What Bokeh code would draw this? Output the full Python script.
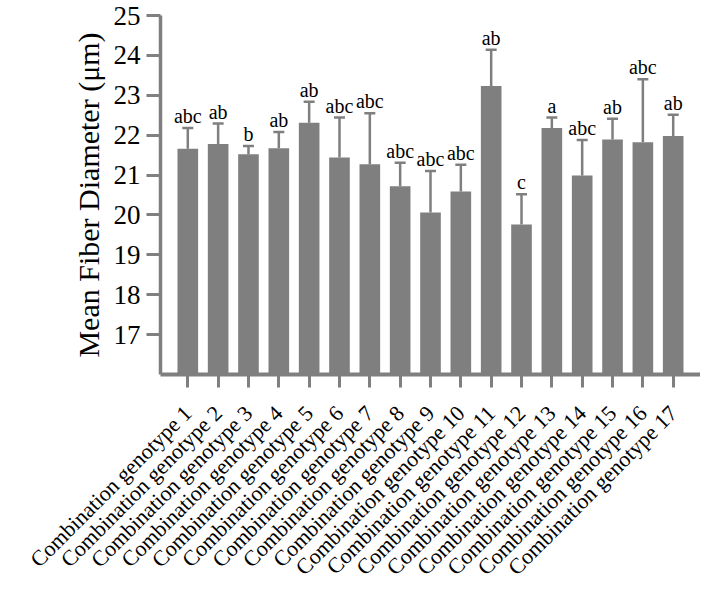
import math
from bokeh.plotting import figure
from bokeh.models import FactorRange, Range1d, FixedTicker, Whisker, ColumnDataSource
from bokeh.core.properties import value
from bokeh.embed import file_html
from bokeh.resources import INLINE

categories = [f"Combination genotype {i}" for i in range(1, 18)]
means = [21.66, 21.78, 21.52, 21.67, 22.31, 21.44, 21.27, 20.72, 20.06,
         20.59, 23.23, 19.76, 22.18, 20.99, 21.89, 21.82, 21.98]
errors = [0.52, 0.51, 0.21, 0.41, 0.53, 1.00, 1.28, 0.59, 1.04,
          0.67, 0.91, 0.76, 0.26, 0.89, 0.52, 1.58, 0.53]
letters = ["abc", "ab", "b", "ab", "ab", "abc", "abc", "abc", "abc",
           "abc", "ab", "c", "a", "abc", "ab", "abc", "ab"]
y_ticks = [17, 18, 19, 20, 21, 22, 23, 24, 25]
y_start, y_end = 16, 25

FONT = "Liberation Serif"
GREY = "#7f7f7f"

src = ColumnDataSource(dict(
    cat=categories,
    mean=means,
    upper=[m + e for m, e in zip(means, errors)],
    letter=letters,
))

p = figure(
    width=700, height=591,
    x_range=FactorRange(factors=categories, range_padding=0.4,
                        range_padding_units="absolute"),
    y_range=Range1d(y_start, y_end),
    output_backend="svg", toolbar_location=None,
    min_border_left=160, min_border_right=0,
    min_border_top=15, min_border_bottom=216,
)
p.outline_line_color = None
p.xgrid.visible = False
p.ygrid.visible = False

p.vbar(x="cat", top="mean", bottom=y_start, width=0.68, source=src,
       fill_color=GREY, line_color=None)

w = Whisker(base="cat", lower="mean", upper="upper", source=src,
            line_color=GREY, line_width=2.5, level="glyph")
w.lower_head = None
w.upper_head.size = 11
w.upper_head.line_color = GREY
w.upper_head.line_width = 2.5
p.add_layout(w)

p.text(x="cat", y="upper", text="letter", source=src,
       text_align="center", text_baseline="alphabetic", y_offset=-12,
       text_font=value(FONT), text_font_size="20px", text_color="black")

# y axis
ya = p.yaxis[0]
ya.ticker = FixedTicker(ticks=y_ticks)
ya.axis_label = "Mean Fiber Diameter (μm)"
ya.axis_label_text_font = FONT
ya.axis_label_text_font_style = "normal"
ya.axis_label_text_font_size = "30px"
ya.axis_label_text_color = "black"
ya.axis_label_standoff = 6
ya.major_label_text_font = FONT
ya.major_label_text_font_size = "27px"
ya.major_label_text_color = "black"
ya.major_label_standoff = 6
ya.axis_line_color = GREY
ya.axis_line_width = 3.5
ya.major_tick_line_color = GREY
ya.major_tick_line_width = 3
ya.major_tick_out = 14
ya.major_tick_in = 0
ya.minor_tick_line_color = None

# x axis
xa = p.xaxis[0]
xa.major_label_orientation = math.pi / 4
xa.major_label_text_font = FONT
xa.major_label_text_font_size = "22px"
xa.major_label_text_color = "black"
xa.major_label_standoff = 22
xa.axis_line_color = GREY
xa.axis_line_width = 4
xa.major_tick_line_color = GREY
xa.major_tick_line_width = 3
xa.major_tick_out = 13
xa.major_tick_in = 0
xa.minor_tick_line_color = None

open("out.html", "w").write(file_html(p, INLINE))
